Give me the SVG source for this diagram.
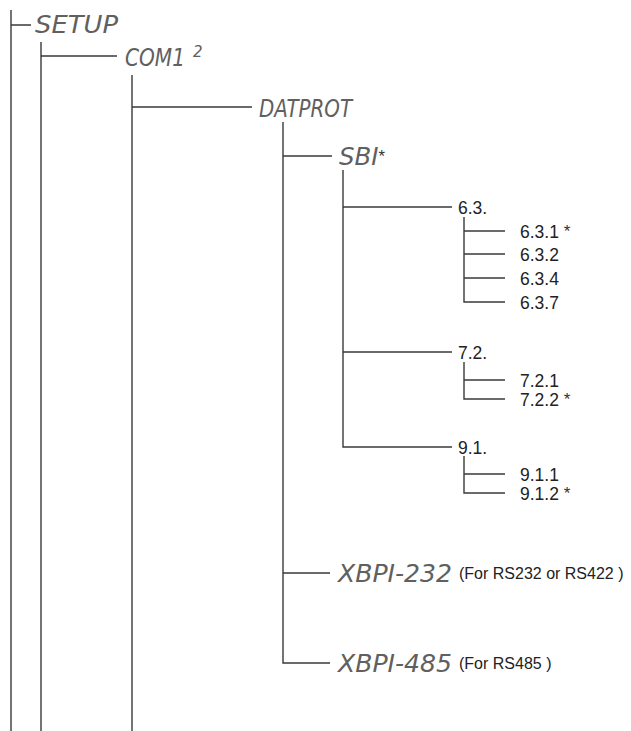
<svg xmlns="http://www.w3.org/2000/svg" width="631" height="731" viewBox="0 0 631 731">
<style>
.ln{stroke:#3a3a3a;stroke-width:1.4;fill:none}
.seg{font-family:"DejaVu Sans","Liberation Sans",sans-serif;font-style:italic;font-weight:200;fill:#606060;font-size:25px}
.sup{font-size:15px}
.num{font-family:"Liberation Sans","Arial",sans-serif;fill:#222;font-size:17.5px}
.note{font-family:"Liberation Sans","Arial",sans-serif;fill:#222;font-size:16px}
.ast{font-family:"Liberation Sans","Arial",sans-serif;font-style:normal;font-weight:400;fill:#333;font-size:17px}
</style>
<rect width="631" height="731" fill="#fff"/>
<g id="connectors">
<path class="ln" d="M11 10V731M11 25H31"/>
<path class="ln" d="M41 42V731M41 56H117"/>
<path class="ln" d="M132 75V731M132 107H252"/>
<path class="ln" d="M283 122V663H330M283 156H332M283 573H330"/>
<path class="ln" d="M343 170V447H452M343 207H452M343 352H452"/>
<path class="ln" d="M464 217V302H505M464 231H505M464 254H505M464 278H505"/>
<path class="ln" d="M464 362V399H505M464 380H505"/>
<path class="ln" d="M464 456V493H505M464 474H505"/>
</g>
<g id="setup"><text class="seg" x="35" y="33" textLength="83" lengthAdjust="spacingAndGlyphs">SETUP</text></g>
<g id="com1"><text class="seg" x="125" y="66" textLength="60" lengthAdjust="spacingAndGlyphs">COM1</text><text class="seg sup" x="193" y="57">2</text></g>
<g id="datprot"><text class="seg" x="259" y="117" textLength="93" lengthAdjust="spacingAndGlyphs">DATPROT</text></g>
<g id="sbi"><text class="seg" x="339" y="165" textLength="46" lengthAdjust="spacingAndGlyphs">SBI<tspan class="ast" dy="-3">*</tspan></text></g>
<g id="n63"><text class="num" x="458" y="214">6.3.</text></g>
<g id="n631"><text class="num" x="520" y="237.5">6.3.1 <tspan class="ast" dy="-1">*</tspan></text></g>
<g id="n632"><text class="num" x="520" y="260.5">6.3.2</text></g>
<g id="n634"><text class="num" x="520" y="284.5">6.3.4</text></g>
<g id="n637"><text class="num" x="520" y="308.5">6.3.7</text></g>
<g id="n72"><text class="num" x="458" y="358.5">7.2.</text></g>
<g id="n721"><text class="num" x="520" y="386.5">7.2.1</text></g>
<g id="n722"><text class="num" x="520" y="405.5">7.2.2 <tspan class="ast" dy="-1">*</tspan></text></g>
<g id="n91"><text class="num" x="458" y="453.5">9.1.</text></g>
<g id="n911"><text class="num" x="520" y="480.5">9.1.1</text></g>
<g id="n912"><text class="num" x="520" y="499.5">9.1.2 <tspan class="ast" dy="-1">*</tspan></text></g>
<g id="xbpi232"><text class="seg" x="338" y="582" textLength="114" lengthAdjust="spacingAndGlyphs">XBPI-232</text><text class="note" x="459" y="579">(For RS232 or RS422 )</text></g>
<g id="xbpi485"><text class="seg" x="338" y="672" textLength="114" lengthAdjust="spacingAndGlyphs">XBPI-485</text><text class="note" x="459" y="669">(For RS485 )</text></g>
</svg>
